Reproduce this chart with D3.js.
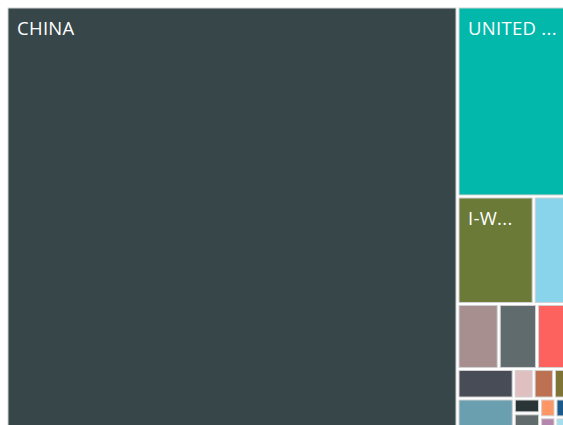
<!DOCTYPE html>
<html>
<head>
<meta charset="utf-8">
<script src="https://cdn.jsdelivr.net/npm/d3@7"></script>
<style>
  html, body { margin: 0; padding: 0; background: #fff; overflow: hidden; }
  svg { display: block; }
  text { font-family: "Open Sans", "Noto Sans", sans-serif; }
</style>
</head>
<body>
<svg id="chart" width="563" height="425"></svg>
<script>
// Categories (display order), their values (read as tile areas), colours and layout block
const names  = ["CHINA", "UNITED STATES", "I-WORLD", "CANADA", "MEXICO", "GERMANY", "JAPAN",
                "KOREA", "TAIWAN", "VIETNAM", "INDIA", "ITALY", "FRANCE", "THAILAND",
                "MALAYSIA", "BRAZIL", "SPAIN", "NETHERLANDS"];
const values = [192600, 21280, 8190, 3850, 2680, 2490, 2110,
                1660, 590, 600, 460, 1970, 390, 530,
                290, 250, 265, 225];
const colors = ["#374649", "#01B8AA", "#6B7A37", "#8AD4EB", "#A78F8F", "#5F6B6D", "#FD625E",
                "#484C56", "#DFBFBF", "#BD7150", "#7F7435", "#6A9FB0", "#293537", "#616B6C",
                "#FE9666", "#B687AC", "#1B5A8A", "#A4DDEE"];
const blocks = ["", "R", "R/2", "R/2", "R/3", "R/3", "R/3",
                "R/4", "R/4", "R/4", "R/4", "R/5", "R/5/a", "R/5/a",
                "R/5/b", "R/5/b", "R/5/c", "R/5/c"];

// Build nested structure
const rootData = { name: "root", children: [] };
function groupNode(path) {
  let node = rootData;
  path.split("/").filter(Boolean).forEach(seg => {
    let c = node.children.find(x => x.children && x.name === seg);
    if (!c) { c = { name: seg, children: [] }; node.children.push(c); }
    node = c;
  });
  return node;
}
names.forEach((n, i) => groupNode(blocks[i]).children.push({ name: n, value: values[i], color: colors[i] }));

const W = 560, H = 424, ox = 8, oy = 8;
const root = d3.hierarchy(rootData).sum(d => d.value || 0);
d3.treemap().tile(d3.treemapSliceDice).size([W, H]).paddingInner(3)(root);

const svg = d3.select("#chart");
const g = svg.append("g").attr("transform", `translate(${ox},${oy})`);

const leaves = g.selectAll("g.leaf").data(root.leaves()).join("g").attr("class", "leaf");
leaves.append("rect")
  .attr("x", d => d.x0).attr("y", d => d.y0)
  .attr("width", d => d.x1 - d.x0).attr("height", d => d.y1 - d.y0)
  .attr("fill", d => d.data.color)
  .attr("stroke", "#d2d2d2").attr("stroke-width", 1);

leaves.each(function(d) {
  const w = d.x1 - d.x0, h = d.y1 - d.y0;
  if (h < 40) return;
  const avail = w - 18;
  const t = d3.select(this).append("text")
    .attr("x", d.x0 + 9).attr("y", d.y0 + 27)
    .attr("fill", "#ffffff").attr("font-size", 18.5)
    .attr("letter-spacing", 0.3)
    .text(d.data.name);
  if (t.node().getComputedTextLength() <= avail) return;
  let s = d.data.name;
  while (s.length > 0) {
    s = s.slice(0, -1);
    t.text(s + "...");
    if (t.node().getComputedTextLength() <= avail) break;
  }
  if (s.length === 0) t.remove();
});
</script>
</body>
</html>
